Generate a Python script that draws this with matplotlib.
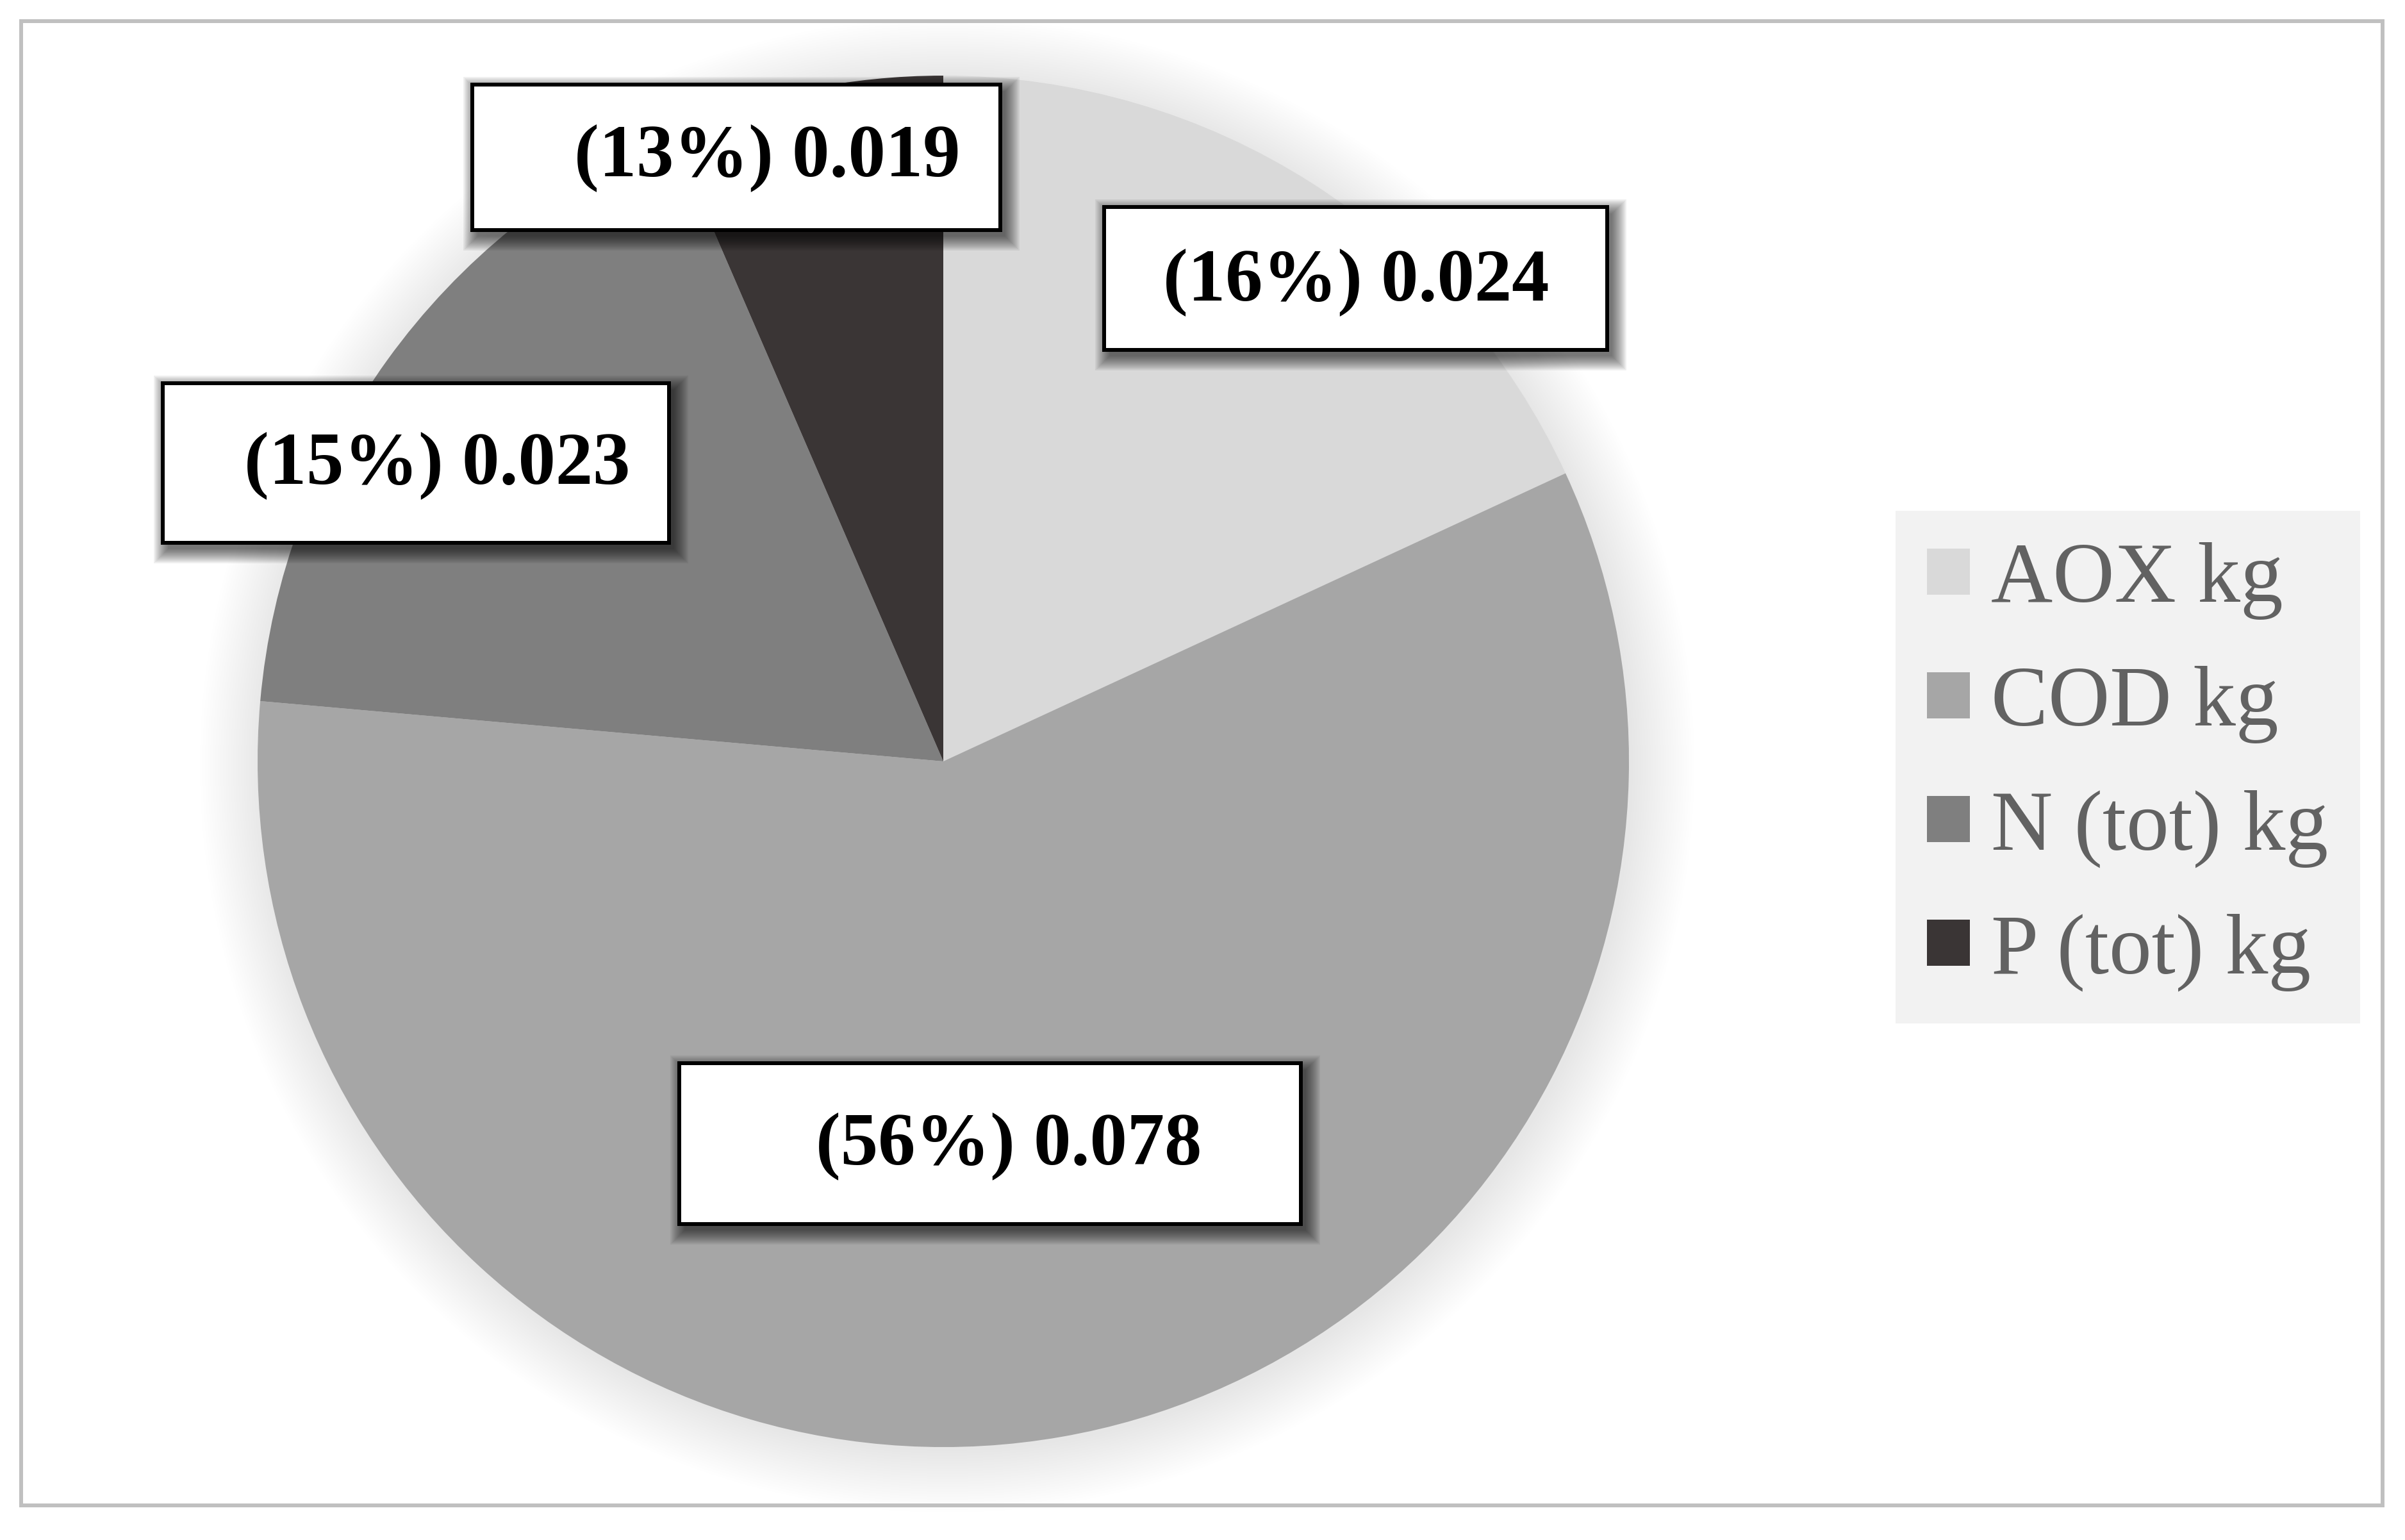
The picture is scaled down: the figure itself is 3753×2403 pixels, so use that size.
# Pie chart of effluent loads with boxed value labels
import matplotlib.pyplot as plt
from matplotlib.patches import Rectangle, Circle

W, H = 3753, 2403

# data
names = ['AOX kg', 'COD kg', 'N (tot) kg', 'P (tot) kg']
shares = [18.1, 58.3, 17.1, 6.5]          # slice sizes as drawn
label_txt = ['(16%) 0.024', '(56%) 0.078', '(15%) 0.023', '(13%) 0.019']
colors = ['#d9d9d9', '#a6a6a6', '#7f7f7f', '#3a3535']

# layout (pixel coords, y from top)
cx, cy, R = 1472, 1188, 1070
# box: left, top, right, bottom ; text centre x, y
boxes = [
    (1723, 323, 2508, 546, 2116, 440),
    (1060, 1659, 2030, 1910, 1574, 1788),
    (254, 598, 1044, 847, 682, 726),
    (737, 132, 1561, 359, 1197, 246),
]


def fy(y):
    return H - y


def main():
    plt.rcParams['font.family'] = ['Liberation Serif', 'DejaVu Serif']
    fig = plt.figure(figsize=(W / 100, H / 100), dpi=100)
    ax = fig.add_axes([0, 0, 1, 1])

    # soft shadow round the pie
    for k in range(25):
        ax.add_patch(Circle((cx + 6, fy(cy) - 6), R + 4 * k, color='black',
                            alpha=0.005, lw=0, zorder=0))

    wedges, _ = ax.pie(shares, colors=colors, startangle=90, counterclock=False,
                       center=(cx, fy(cy)), radius=R,
                       wedgeprops=dict(linewidth=0))
    for w in wedges:
        w.set_zorder(1)

    for (l, t, r, b, tx, ty), s in zip(boxes, label_txt):
        for k in range(12):
            ax.add_patch(Rectangle((l + 8 - 2 * k, fy(b) - 10 - 2 * k),
                                   r - l + 4 * k, b - t + 4 * k, color='black',
                                   alpha=0.06, lw=0, zorder=3))
        ax.add_patch(Rectangle((l, fy(b)), r - l, b - t, facecolor='white',
                               edgecolor='black', lw=4.3, zorder=4))
        ax.text(tx, fy(ty), s, ha='center', va='center', fontsize=84,
                fontweight='bold', color='black', zorder=5)

    # outer frame
    ax.add_patch(Rectangle((33, fy(2349)), 3718 - 33, 2349 - 33, fill=False,
                           edgecolor='#c0c0c0', lw=4.3, zorder=6))

    ax.set_xlim(0, W)
    ax.set_ylim(0, H)
    ax.axis('off')

    leg = fig.legend(wedges, names, loc='upper left',
                     bbox_to_anchor=(2958 / W, 1 - 797 / H), fontsize=96,
                     frameon=True, fancybox=False, facecolor='#f2f2f2',
                     edgecolor='none', framealpha=1, labelspacing=0.54,
                     handlelength=0.5, handleheight=0.45, handletextpad=0.25,
                     borderpad=0.37, borderaxespad=0)
    for t in leg.get_texts():
        t.set_color('#626262')

    fig.savefig('out.png', dpi=100, facecolor='white')


if __name__ == '__main__':
    main()
